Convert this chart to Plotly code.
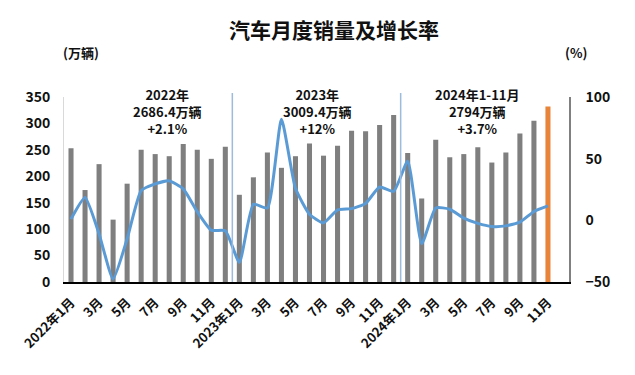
import plotly.graph_objects as go

# ---- data ----
months = (
    ["2022年1月"] + [f"{m}月" for m in range(2, 13)]
    + ["2023年1月"] + [f"{m}月" for m in range(2, 13)]
    + ["2024年1月"] + [f"{m}月" for m in range(2, 13)]
)
sales = [253, 174, 223, 118, 186, 250, 242, 238, 261, 250, 233, 256,
         165, 198, 245, 216, 238, 262, 239, 258, 286, 285, 297, 316,
         244, 158, 269, 236, 242, 255, 226, 245, 281, 305, 332]
growth = [1, 18.5, -11, -47.5, -15, 24, 29.5, 32, 25.5, 7, -8, -8.5,
          -34, 13, 10, 82, 26, 5, -2, 8.5, 9.5, 13.7, 27, 23.5,
          47.9, -19, 10, 9, 1.8, -2.5, -5, -4.5, -1.5, 7.2, 11.7]
year_notes = [
    ["2022年", "2686.4万辆", "+2.1%"],
    ["2023年", "3009.4万辆", "+12%"],
    ["2024年1-11月", "2794万辆", "+3.7%"],
]
left_ticks = [0, 50, 100, 150, 200, 250, 300, 350]
right_ticks = [-50, 0, 50, 100]

FONT = "Noto Sans CJK SC, Noto Sans, sans-serif"
n = len(sales)
xs = list(range(n))
bar_colors = ["#7F7F7F"] * (n - 1) + ["#E8833A"]

W, H = 635, 375
ml, mr, mt, mb = 64, 66, 97, 93
pw, ph = W - ml - mr, H - mt - mb


def px_x(px):
    return (px - ml) / pw


def px_y(py):
    return (H - mb - py) / ph


fig = go.Figure()
fig.add_trace(go.Bar(x=xs, y=sales, marker_color=bar_colors, marker_line_width=0,
                     yaxis="y", showlegend=False))
fig.add_trace(go.Scatter(x=xs, y=growth, mode="lines", yaxis="y2",
                         line=dict(color="#5B9BD5", width=3, shape="spline", smoothing=0.5),
                         showlegend=False))

# year separators (between Dec and Jan)
for i, lab in enumerate(months[:n]):
    if "年" in lab and i > 0:
        fig.add_shape(type="line", xref="x", yref="paper", x0=i - 0.5, x1=i - 0.5,
                      y0=0, y1=px_y(93), line=dict(color="#9DBBDD", width=1.5))

# year notes
note_x = [6.9, 17.6, 29.0]
for nx, lines in zip(note_x, year_notes):
    fig.add_annotation(x=nx, y=px_y(111), xref="x", yref="paper", text="<br>".join(lines),
                       showarrow=False, xanchor="center", yanchor="middle", align="center",
                       font=dict(family=FONT, size=13, color="#111", weight="bold"))

for t, (hx, hy) in [("(万辆)", (81, 52)), ("(%)", (576, 52))]:
    fig.add_annotation(x=px_x(hx), y=px_y(hy), xref="paper", yref="paper", text=t,
                       showarrow=False, xanchor="center", yanchor="middle",
                       font=dict(family=FONT, size=13, color="#111", weight="bold"))

fig.update_layout(
    width=W, height=H,
    margin=dict(l=ml, r=mr, t=mt, b=mb),
    paper_bgcolor="white", plot_bgcolor="white",
    title=dict(text="汽车月度销量及增长率", x=334 / W, xanchor="center",
               y=1 - 31 / H, yanchor="middle", xref="container", yref="container",
               font=dict(family=FONT, size=21, color="#111", weight="bold")),
    bargap=0.64,
    xaxis=dict(range=[-0.5, 35.5], tickmode="array",
               tickvals=xs[::2], ticktext=months[:n:2], tickangle=-45,
               showline=True, linecolor="black", linewidth=1.5,
               ticks="", showgrid=False, zeroline=False, ticklabelstandoff=6,
               tickfont=dict(family=FONT, size=13, color="#111", weight="bold")),
    yaxis=dict(range=[0, 350], tickvals=left_ticks, showgrid=False, zeroline=False,
               showline=True, linecolor="#D9D9D9", linewidth=1, ticks="",
               ticklabelstandoff=10,
               tickfont=dict(family=FONT, size=14, color="#111", weight="bold")),
    yaxis2=dict(range=[-50, 100], tickvals=right_ticks, overlaying="y", side="right",
                showgrid=False, zeroline=False, showline=True, linecolor="#808080",
                linewidth=1.5, ticks="", ticklabelstandoff=12,
                tickfont=dict(family=FONT, size=14, color="#111", weight="bold")),
)

fig.write_html("out.html", config={"displayModeBar": False},
               post_script="document.body.style.margin='0px';")
